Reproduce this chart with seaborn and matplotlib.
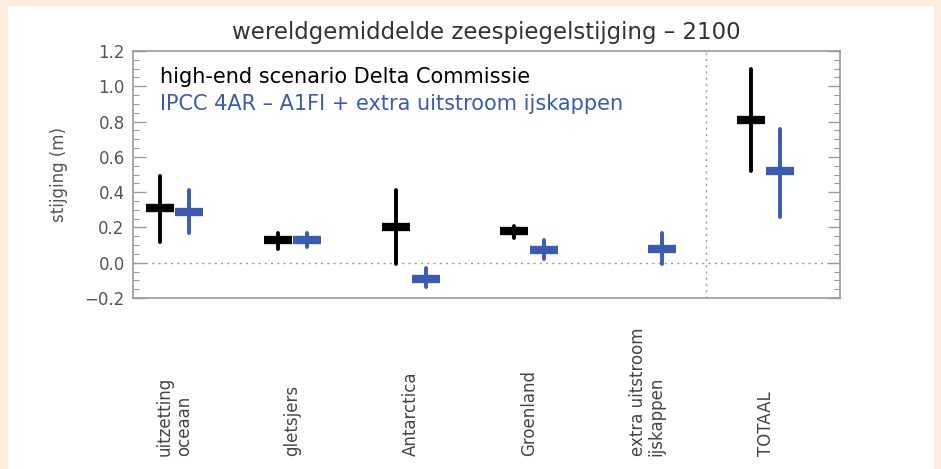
import numpy as np
import pandas as pd
import matplotlib
matplotlib.use('Agg')
import matplotlib.pyplot as plt
from matplotlib.patches import Rectangle
import seaborn as sns

# values (m)
categories = ['uitzetting\noceaan', 'gletsjers', 'Antarctica', 'Groenland',
              'extra uitstroom\nijskappen', 'TOTAAL']
scenarios = ['high-end scenario Delta Commissie',
             'IPCC 4AR \u2013 A1FI + extra uitstroom ijskappen']

delta_low = [0.12, 0.08, -0.01, 0.14, None, 0.52]
delta_mid = [0.31, 0.13, 0.20, 0.18, None, 0.81]
delta_high = [0.49, 0.17, 0.41, 0.21, None, 1.10]

ipcc_low = [0.17, 0.09, -0.14, 0.02, -0.01, 0.26]
ipcc_mid = [0.29, 0.13, -0.09, 0.07, 0.08, 0.52]
ipcc_high = [0.41, 0.17, -0.03, 0.13, 0.17, 0.76]

yticks = [-0.2, 0.0, 0.2, 0.4, 0.6, 0.8, 1.0, 1.2]

colors = ['#000000', '#3b5bb0']
bg = '#fbecdd'
grey = '#9a9a9a'

# long-form table: low/mid/high per group, median = mid, min/max = range
rows = []
for scen, lows, mids, highs in [(scenarios[0], delta_low, delta_mid, delta_high),
                                (scenarios[1], ipcc_low, ipcc_mid, ipcc_high)]:
    for cat, lo, mid, hi in zip(categories, lows, mids, highs):
        if mid is None:
            continue
        for v in (lo, mid, hi):
            rows.append({'categorie': cat, 'scenario': scen, 'stijging': v})
df = pd.DataFrame(rows)

sns.set_theme(style='white')
plt.rcParams['font.family'] = ['DejaVu Sans']

fig = plt.figure(figsize=(9.41, 4.69), dpi=100, facecolor=bg)
fig.patches.append(Rectangle((7.5 / 941, 0), (934 - 7.5) / 941, 1 - 6 / 469,
                             transform=fig.transFigure, facecolor='white',
                             edgecolor='none', zorder=-5))
ax = fig.add_axes([133 / 941, 171 / 469, 707 / 941, 247 / 469])
ax.set_facecolor('white')
ax.set_zorder(2)

sns.pointplot(data=df, x='categorie', y='stijging', hue='scenario',
              order=categories, hue_order=scenarios, palette=colors,
              estimator='median', errorbar=lambda v: (v.min(), v.max()),
              dodge=0.25, markers='_', linestyle='none',
              markersize=19.5, markeredgewidth=6,
              err_kws={'linewidth': 2.8}, legend=False, ax=ax)

ax.axhline(0, color=grey, lw=1, ls=(0, (1.5, 3)), zorder=0)
ax.axvline(4.5, color=grey, lw=1, ls=(0, (1.5, 3)), zorder=0)

ax.set_ylim(-0.2, 1.2)
ax.set_xlim(-0.35, 5.63)
ax.set_yticks(yticks)
ax.set_yticklabels([f'{t:.1f}'.replace('-', '\u2212') for t in yticks])
ax.yaxis.set_minor_locator(matplotlib.ticker.MultipleLocator(0.05))
ax.tick_params(axis='y', which='major', direction='in', length=9, width=1,
               color=grey, left=True, right=True, labelsize=12,
               labelcolor='#555555', pad=6)
ax.tick_params(axis='y', which='minor', direction='in', length=4.5, width=0.8,
               color=grey, left=True, right=True)
ax.set_xticks(range(len(categories)))
ax.set_xticklabels([])
ax.tick_params(axis='x', length=0)
ax.set_xlabel('')
ax.set_ylabel('stijging (m)', fontsize=12, color='#555555', labelpad=12)

for s in ax.spines.values():
    s.set_color(grey)
    s.set_linewidth(1.2)

for i, cat in enumerate(categories):
    ax.text(i, -0.64, cat, transform=ax.get_xaxis_transform(), rotation=90,
            ha='center', va='bottom', multialignment='left',
            fontsize=12, color='#444444', linespacing=1.05)

ax.text(0.038, 0.895, scenarios[0], transform=ax.transAxes, fontsize=15,
        color=colors[0], va='center')
ax.text(0.038, 0.785, scenarios[1], transform=ax.transAxes, fontsize=15,
        color=colors[1], va='center')

ax.set_title('wereldgemiddelde zeespiegelstijging \u2013 2100',
             fontsize=16.5, color='#333333', pad=9)

fig.savefig('out.png', dpi=100, facecolor=bg)
